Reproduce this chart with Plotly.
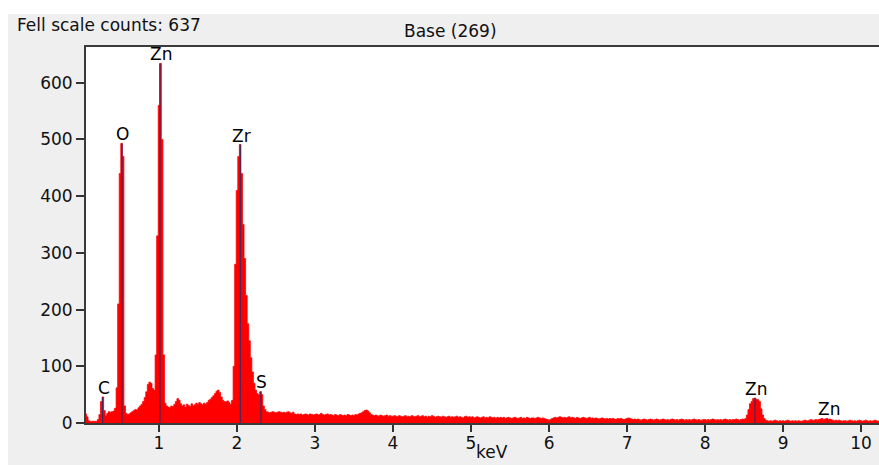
import plotly.graph_objects as go

# ---- data ----
energy_start = 0.0   # keV of first channel
energy_step = 0.02   # keV per channel
counts = [
    0, 0, 0, 16, 11, 4, 3, 3, 3, 3,
    3, 6, 15, 38, 46, 22, 13, 17, 20, 19,
    20, 21, 26, 62, 210, 440, 493, 470, 30, 17,
    15, 16, 18, 20, 22, 24, 23, 27, 30, 33,
    38, 45, 55, 68, 72, 70, 61, 58, 120, 330,
    560, 634, 500, 120, 35, 30, 28, 27, 30, 29,
    33, 38, 43, 40, 34, 30, 32, 28, 33, 31,
    29, 34, 30, 32, 35, 33, 36, 34, 32, 35,
    33, 36, 40, 42, 45, 48, 52, 56, 58, 54,
    46, 40, 38, 37, 39, 36, 33, 40, 100, 280,
    410, 470, 491, 440, 350, 290, 225, 175, 145, 115,
    90, 70, 58, 52, 50, 55, 50, 30, 24, 20,
    19, 18, 19, 20, 19, 18, 19, 20, 19, 18,
    19, 18, 19, 20, 18, 17, 19, 16, 15, 16,
    15, 16, 14, 15, 16, 15, 14, 16, 15, 14,
    15, 16, 14, 15, 17, 15, 14, 15, 16, 14,
    15, 14, 13, 15, 14, 13, 15, 14, 13, 14,
    13, 15, 14, 13, 14, 13, 15, 14, 16, 17,
    18, 20, 22, 23, 21, 18, 15, 14, 13, 14,
    13, 12, 14, 13, 12, 13, 14, 12, 13, 12,
    12, 13, 12, 11, 13, 12, 11, 12, 13, 11,
    12, 11, 13, 12, 11, 12, 13, 11, 12, 13,
    11, 12, 10, 12, 11, 13, 12, 10, 11, 12,
    11, 10, 12, 11, 10, 11, 12, 10, 11, 10,
    11, 12, 10, 11, 10, 9, 11, 12, 10, 11,
    10, 11, 9, 10, 11, 10, 9, 10, 11, 9,
    10, 9, 11, 10, 9, 10, 8, 10, 9, 10,
    9, 10, 8, 9, 10, 9, 8, 9, 10, 9,
    8, 9, 10, 8, 9, 8, 10, 9, 8, 9,
    9, 8, 9, 10, 9, 8, 9, 8, 7, 6,
    5, 6, 8, 9, 10, 9, 10, 11, 10, 9,
    10, 9, 10, 11, 9, 10, 9, 8, 10, 9,
    8, 9, 10, 9, 8, 9, 10, 8, 9, 8,
    9, 8, 7, 8, 9, 8, 7, 8, 7, 8,
    7, 8, 7, 6, 8, 7, 8, 7, 6, 7,
    8, 9, 8, 7, 6, 7, 6, 7, 6, 5,
    6, 7, 6, 5, 6, 7, 6, 5, 6, 7,
    6, 5, 6, 7, 6, 5, 6, 5, 6, 7,
    6, 5, 6, 5, 6, 7, 6, 5, 6, 5,
    6, 5, 6, 7, 6, 5, 6, 5, 5, 6,
    6, 5, 6, 5, 6, 7, 6, 5, 6, 5,
    6, 5, 6, 7, 6, 5, 6, 5, 6, 6,
    7, 6, 5, 6, 7, 6, 8, 14, 24, 34,
    38, 43, 44, 42, 41, 38, 25, 14, 8, 5,
    4, 3, 4, 3, 4, 5, 4, 3, 4, 3,
    4, 3, 4, 5, 4, 3, 4, 3, 4, 3,
    4, 3, 3, 4, 5, 4, 4, 5, 6, 5,
    5, 6, 5, 6, 7, 8, 6, 7, 8, 6,
    7, 6, 5, 4, 5, 4, 5, 4, 3, 4,
    4, 3, 4, 5, 4, 3, 4, 3, 4, 5,
    4, 3, 4, 5, 4, 3, 4, 3, 4, 5,
    4, 3, 4,
]
energies = [round(energy_start + i * energy_step, 3) for i in range(len(counts))]

peak_labels = ["C", "O", "Zn", "Zr", "S", "Zn", "Zn"]
peak_energies = [0.277, 0.525, 1.012, 2.042, 2.307, 8.64, 9.57]
peak_heights = [45, 493, 634, 491, 56, 44, 8]

x_ticks = [1, 2, 3, 4, 5, 6, 7, 8, 9, 10]
y_ticks = [0, 100, 200, 300, 400, 500, 600]
full_scale = 637
base_count = 269

# ---- layout geometry (px) ----
W, H = 879, 465
ML, MR, MT, MB = 86, 0, 47, 42
PW, PH = W - ML - MR, H - MT - MB

def px_x(px):
    return (px - ML) / PW

def px_y(py):
    return 1 - (py - MT) / PH

FONT = "DejaVu Sans, Verdana, sans-serif"

fig = go.Figure()

fig.add_trace(go.Scatter(
    x=energies, y=counts, mode="lines", line_shape="hvh",
    line=dict(color="#ff0000", width=0.8),
    fill="tozeroy", fillcolor="#ff0000", hoverinfo="skip", showlegend=False,
))

lx, ly = [], []
for e, h in zip(peak_energies, peak_heights):
    lx += [e, e, None]
    ly += [0, h, None]
fig.add_trace(go.Scatter(
    x=lx, y=ly, mode="lines", line=dict(color="#3a2a66", width=1.2),
    hoverinfo="skip", showlegend=False,
))

for lab, e, h in zip(peak_labels, peak_energies, peak_heights):
    fig.add_annotation(x=e, y=h, xref="x", yref="y", text=lab, showarrow=False,
                       xanchor="center", yanchor="bottom", yshift=-3, xshift=1,
                       font=dict(family=FONT, size=17, color="#000"))

fig.add_annotation(x=px_x(15), y=px_y(25), xref="paper", yref="paper",
                   text=f"Fell scale counts: {full_scale}", showarrow=False,
                   xanchor="left", yanchor="middle",
                   font=dict(family=FONT, size=17, color="#111"))
fig.add_annotation(x=px_x(450), y=px_y(31), xref="paper", yref="paper",
                   text=f"Base ({base_count})", showarrow=False,
                   xanchor="center", yanchor="middle",
                   font=dict(family=FONT, size=17, color="#111"))
fig.add_annotation(x=px_x(492), y=px_y(464), xref="paper", yref="paper",
                   text="keV", showarrow=False, xanchor="center", yanchor="bottom",
                   font=dict(family=FONT, size=17, color="#111"))

# white strips above and left of the grey panel
fig.add_shape(type="rect", xref="paper", yref="paper", layer="above",
              x0=px_x(0), x1=px_x(W), y0=px_y(14), y1=px_y(0),
              fillcolor="white", line_width=0)
fig.add_shape(type="rect", xref="paper", yref="paper", layer="above",
              x0=px_x(0), x1=px_x(8), y0=px_y(H), y1=px_y(0),
              fillcolor="white", line_width=0)

fig.update_layout(
    width=W, height=H,
    margin=dict(l=ML, r=MR, t=MT, b=MB, pad=0),
    paper_bgcolor="#efefef", plot_bgcolor="white",
    font=dict(family=FONT, size=17, color="#111"),
    showlegend=False,
)
fig.update_xaxes(
    range=[0.064, 10.23], tickvals=x_ticks, ticktext=[str(t) for t in x_ticks],
    ticks="outside", ticklen=7, tickwidth=1.5, tickcolor="#333",
    ticklabelstandoff=-3,
    showline=True, linecolor="#3a3a3a", linewidth=2, mirror=True,
    showgrid=False, zeroline=False, tickfont=dict(family=FONT, size=17, color="#111"),
)
fig.update_yaxes(
    range=[0, 663], tickvals=y_ticks, ticktext=[str(t) for t in y_ticks],
    ticks="outside", ticklen=8, tickwidth=1.5, tickcolor="#333",
    showline=True, linecolor="#3a3a3a", linewidth=2,
    showgrid=False, zeroline=False, tickfont=dict(family=FONT, size=17, color="#111"),
)

fig.write_html("out.html")
